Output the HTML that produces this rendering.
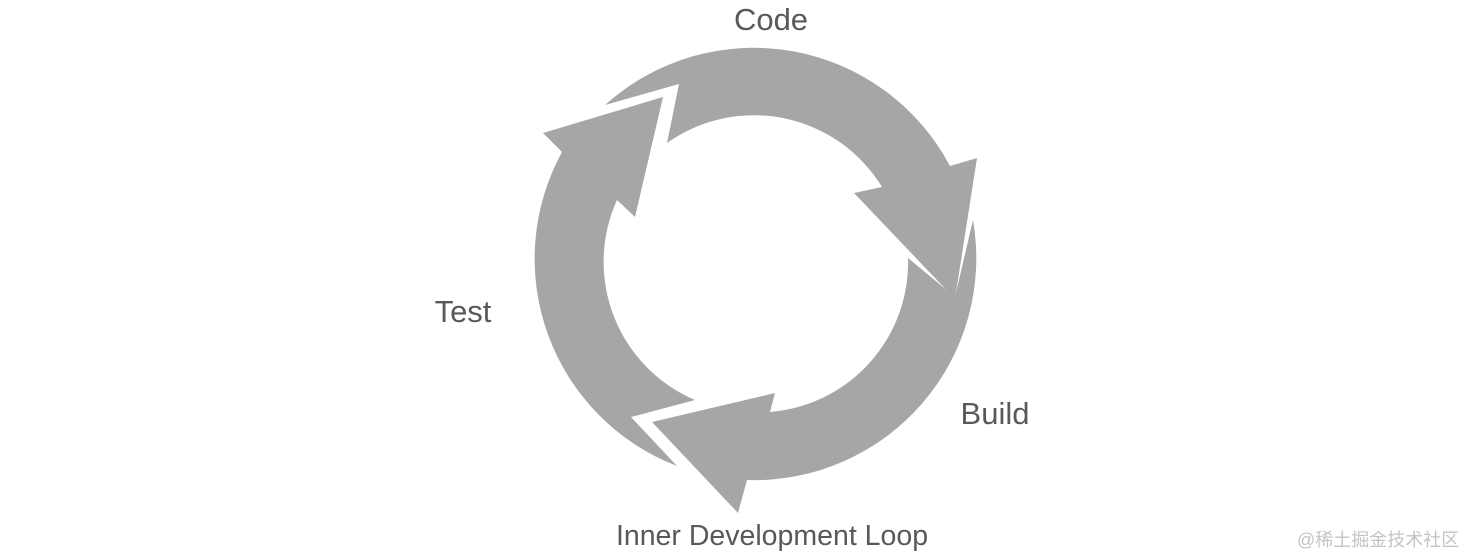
<!DOCTYPE html>
<html><head><meta charset="utf-8"><style>
html,body{margin:0;padding:0;background:#fff;}
body{width:1462px;height:556px;overflow:hidden;position:relative;}
svg{position:absolute;left:0;top:0;}
</style></head><body>
<svg width="1462" height="556" viewBox="0 0 1462 556" xmlns="http://www.w3.org/2000/svg">
<g fill="#a6a6a6">
<path d="M605,105 A222,222 0 0 1 950,166 L977,158 L955,299 L854,193 L882,187 A150,150 0 0 0 667,143 L679,84 Z"/>
<path d="M973,220 A222,222 0 0 1 747,480 L738,513 L652,422 L775,393 L770,412 A150,150 0 0 0 908,258 L955,297 Z"/>
<path d="M677,466 A222,222 0 0 1 562,152 L543,133 L663,97 L635,217 L617,200 A150,150 0 0 0 695,400 L631,417 Z"/>
</g>
<g font-family="Liberation Sans, sans-serif" fill="#595959" font-size="31">
<text x="771" y="30" text-anchor="middle">Code</text>
<text x="463" y="322" text-anchor="middle">Test</text>
<text x="995" y="424" text-anchor="middle">Build</text>
<text x="772" y="545" text-anchor="middle" font-size="28.5">Inner Development Loop</text>
</g>
<text x="1297" y="546" font-family="Liberation Sans, Noto Sans CJK SC, sans-serif" font-size="18" fill="#c4c4c4">@稀土掘金技术社区</text>
</svg>
</body></html>
